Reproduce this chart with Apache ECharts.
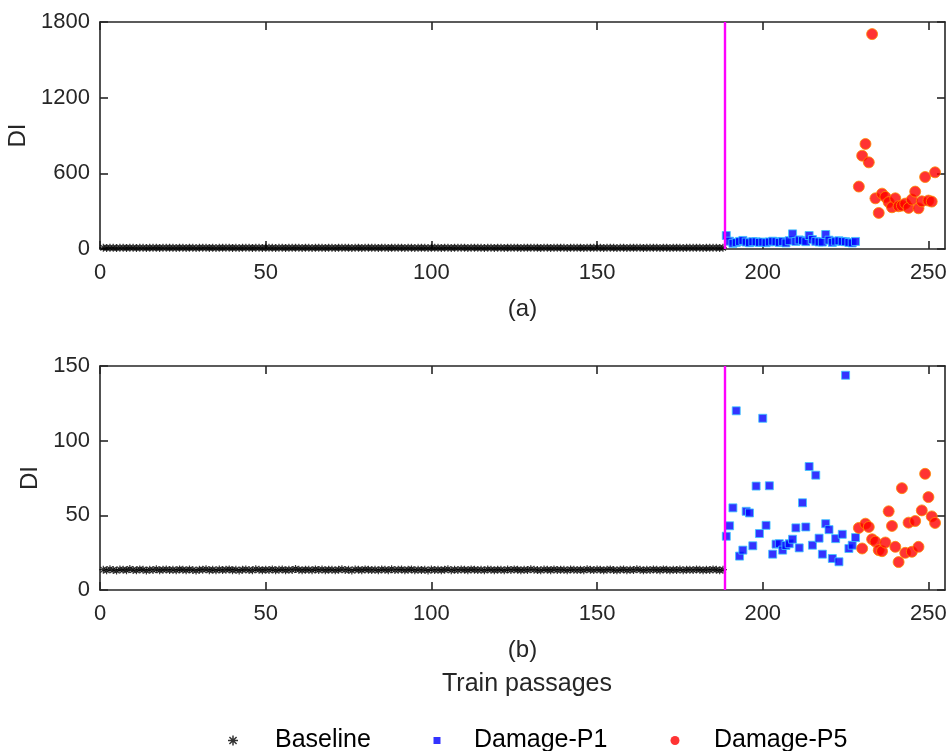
<!DOCTYPE html>
<html>
<head>
<meta charset="utf-8">
<script src="https://cdn.jsdelivr.net/npm/echarts@6/dist/echarts.min.js"></script>
<style>
  html, body { margin: 0; padding: 0; background: #fff; }
  #chart { width: 947px; height: 751px; }
</style>
</head>
<body>
<div id="chart"></div>
<script>
// passages where each state starts
const baselineStart = 1
const p1Start = 189
const p5Start = 229
const damageOnset = 188.5

const xTicks = [0, 50, 100, 150, 200, 250]
const yTicksA = [0, 600, 1200, 1800]
const yTicksB = [0, 50, 100, 150]

// (a) DI
const baselineA = [
  9.5, 8.7, 10.2, 9.1, 8.4, 9.8, 9.3, 8.9, 10.5, 9.2,
  8.6, 9.9, 9.4, 8.5, 9.7, 9.0, 10.3, 8.8, 9.4, 9.6,
  9.1, 9.7, 8.7, 10.0, 9.3, 8.9, 9.8, 9.2, 8.4, 9.6,
  9.4, 10.2, 8.9, 9.6, 8.6, 9.8, 9.1, 9.4, 10.0, 8.8,
  9.7, 8.5, 9.3, 9.8, 9.2, 8.7, 10.3, 9.4, 8.9, 9.6,
  9.1, 10.0, 8.6, 9.4, 9.8, 8.9, 9.6, 9.1, 10.4, 9.4,
  8.9, 9.6, 9.3, 8.6, 10.0, 9.1, 9.8, 8.8, 9.4, 9.6,
  8.7, 9.4, 10.2, 9.1, 9.6, 8.5, 9.8, 9.3, 8.9, 10.0,
  9.4, 9.1, 9.6, 8.7, 9.8, 9.4, 8.9, 10.3, 9.1, 9.6,
  9.8, 8.8, 9.4, 10.0, 8.6, 9.6, 9.1, 9.4, 8.5, 9.8,
  9.1, 9.6, 8.9, 9.4, 10.3, 8.7, 9.6, 9.2, 9.8, 9.4,
  8.8, 10.0, 9.4, 9.1, 9.6, 8.6, 9.8, 9.4, 8.9, 9.6,
  9.4, 8.7, 9.8, 9.1, 10.0, 9.4, 8.8, 9.6, 9.1, 10.3,
  9.6, 9.1, 8.7, 9.8, 9.4, 8.9, 10.0, 9.1, 9.6, 9.4,
  8.6, 9.8, 9.4, 9.1, 9.6, 8.9, 10.3, 9.4, 9.1, 9.8,
  9.4, 8.8, 9.6, 10.0, 9.1, 8.6, 9.4, 9.8, 8.9, 9.6,
  9.1, 10.3, 9.4, 8.7, 9.6, 9.1, 9.8, 9.4, 8.9, 10.0,
  9.6, 8.9, 9.4, 9.1, 9.8, 8.6, 9.6, 9.4, 9.1, 9.8,
  9.4, 8.9, 9.6, 9.1, 10.0, 9.4, 8.7, 9.6
]
const damageP1A = [
  107, 62, 45, 52, 60, 68, 55, 50, 58, 57,
  52, 55, 50, 56, 62, 58, 52, 60, 48, 66,
  120, 60, 72, 66, 58, 107, 75, 60, 56, 55,
  115, 70, 52, 62, 65, 60, 58, 52, 48, 60
]
const damageP5A = [
  495, 740, 833, 687, 1704, 402, 286, 439, 413, 371,
  331, 402, 339, 344, 360, 326, 392, 455, 323, 378,
  571, 384, 376, 608
]

// (b) DI
const baselineB = [
  13.6, 13.2, 13.9, 13.4, 13.1, 13.7, 13.5, 13.3, 14.0, 13.4,
  13.2, 13.8, 13.5, 13.1, 13.6, 13.4, 13.9, 13.3, 13.5, 13.7,
  13.4, 13.6, 13.2, 13.8, 13.5, 13.3, 13.7, 13.4, 13.1, 13.6,
  13.5, 13.9, 13.3, 13.6, 13.2, 13.7, 13.4, 13.5, 13.8, 13.3,
  13.6, 13.1, 13.5, 13.7, 13.4, 13.2, 13.9, 13.5, 13.3, 13.6,
  13.4, 13.8, 13.2, 13.5, 13.7, 13.3, 13.6, 13.4, 14.0, 13.5,
  13.3, 13.6, 13.5, 13.2, 13.8, 13.4, 13.7, 13.3, 13.5, 13.6,
  13.2, 13.5, 13.9, 13.4, 13.6, 13.1, 13.7, 13.5, 13.3, 13.8,
  13.5, 13.4, 13.6, 13.2, 13.7, 13.5, 13.3, 13.9, 13.4, 13.6,
  13.7, 13.3, 13.5, 13.8, 13.2, 13.6, 13.4, 13.5, 13.1, 13.7,
  13.4, 13.6, 13.3, 13.5, 13.9, 13.2, 13.6, 13.4, 13.7, 13.5,
  13.3, 13.8, 13.5, 13.4, 13.6, 13.2, 13.7, 13.5, 13.3, 13.6,
  13.5, 13.2, 13.7, 13.4, 13.8, 13.5, 13.3, 13.6, 13.4, 13.9,
  13.6, 13.4, 13.2, 13.7, 13.5, 13.3, 13.8, 13.4, 13.6, 13.5,
  13.2, 13.7, 13.5, 13.4, 13.6, 13.3, 13.9, 13.5, 13.4, 13.7,
  13.5, 13.3, 13.6, 13.8, 13.4, 13.2, 13.5, 13.7, 13.3, 13.6,
  13.4, 13.9, 13.5, 13.2, 13.6, 13.4, 13.7, 13.5, 13.3, 13.8,
  13.6, 13.3, 13.5, 13.4, 13.7, 13.2, 13.6, 13.5, 13.4, 13.7,
  13.5, 13.3, 13.6, 13.4, 13.8, 13.5, 13.2, 13.6
]
const damageP1B = [
  36, 43, 55, 120, 22.7, 26.7, 52.7, 51.6, 29.6, 69.6,
  37.8, 115, 43.3, 69.8, 24, 30.7, 31, 26.7, 29.8, 31,
  34, 41.6, 28.2, 58.4, 42.2, 82.7, 30, 76.9, 34.7, 24,
  44.4, 40.4, 21.1, 34.4, 18.9, 37.3, 143.8, 27.8, 30, 35.1
]
const damageP5B = [
  41.6, 27.8, 44.4, 42.2, 34, 32.4, 26.7, 26, 31.8, 52.7,
  42.9, 28.9, 18.7, 68.2, 24.9, 45.1, 25.6, 46.2, 28.9, 53.3,
  77.8, 62.2, 49.3, 44.9
]

const toPoints = (values, start) => values.map((v, i) => [start + i, v])

const ink = '#262626'
const font = 'Liberation Sans, Arial, Helvetica, sans-serif'
const asterisk =
  'path://M8.5,0L11.5,0L11.5,20L8.5,20Z M0,8.5L20,8.5L20,11.5L0,11.5Z ' +
  'M1.8,3.9L3.9,1.8L18.2,16.1L16.1,18.2Z M16.1,1.8L18.2,3.9L3.9,18.2L1.8,16.1Z'
const square = 'path://M0,0L10,0L10,10L0,10Z'

const lineStyle = { color: ink, width: 1.6 }
const mainX = (grid, name) => ({
  type: 'value',
  gridIndex: grid,
  min: 0,
  max: 255,
  position: 'bottom',
  name,
  nameLocation: 'middle',
  nameGap: 48,
  nameTextStyle: { fontFamily: font, fontSize: 24, color: ink },
  axisLine: { show: true, onZero: false, lineStyle },
  axisTick: { show: true, inside: true, length: 8, lineStyle, customValues: xTicks },
  axisLabel: { fontFamily: font, fontSize: 22, color: ink, margin: 13, customValues: xTicks },
  splitLine: { show: false },
})
const mirrorX = (grid) => ({
  type: 'value',
  gridIndex: grid,
  min: 0,
  max: 255,
  position: 'top',
  axisLine: { show: true, onZero: false, lineStyle },
  axisTick: { show: true, inside: true, length: 8, lineStyle, customValues: xTicks },
  axisLabel: { show: false },
  splitLine: { show: false },
})
const mainY = (grid, ticks, gap) => ({
  type: 'value',
  gridIndex: grid,
  min: ticks[0],
  max: ticks[ticks.length - 1],
  interval: ticks[1] - ticks[0],
  position: 'left',
  name: 'DI',
  nameLocation: 'middle',
  nameGap: gap,
  nameTextStyle: { fontFamily: font, fontSize: 24, color: ink },
  axisLine: { show: true, onZero: false, lineStyle },
  axisTick: { show: true, inside: true, length: 8, lineStyle },
  axisLabel: { fontFamily: font, fontSize: 22, color: ink, margin: 10, formatter: (v) => String(v) },
  splitLine: { show: false },
})
const mirrorY = (grid, ticks) => ({
  type: 'value',
  gridIndex: grid,
  min: ticks[0],
  max: ticks[ticks.length - 1],
  interval: ticks[1] - ticks[0],
  position: 'right',
  axisLine: { show: true, onZero: false, lineStyle },
  axisTick: { show: true, inside: true, length: 8, lineStyle },
  axisLabel: { show: false },
  splitLine: { show: false },
})

const onsetLine = {
  silent: true,
  symbol: 'none',
  label: { show: false },
  lineStyle: { color: '#ff00ff', width: 2.4, type: 'solid' },
  data: [{ xAxis: damageOnset }],
}

const baselineStyle = { color: '#000' }
const p1Style = { color: '#0000ff', borderColor: '#3cc8ff', borderWidth: 1 }
const p5Style = { color: '#ff0000', borderColor: '#ff8a00', borderWidth: 1 }

const panelSeries = (grid, base, p1, p5) => [
  {
    name: 'Baseline',
    type: 'scatter',
    xAxisIndex: grid * 2,
    yAxisIndex: grid * 2,
    symbol: asterisk,
    symbolSize: 8,
    itemStyle: baselineStyle,
    data: toPoints(base, baselineStart),
    markLine: onsetLine,
    z: 3,
  },
  {
    name: 'Damage-P1',
    type: 'scatter',
    xAxisIndex: grid * 2,
    yAxisIndex: grid * 2,
    symbol: square,
    symbolSize: 8,
    itemStyle: p1Style,
    data: toPoints(p1, p1Start),
    z: 4,
  },
  {
    name: 'Damage-P5',
    type: 'scatter',
    xAxisIndex: grid * 2,
    yAxisIndex: grid * 2,
    symbol: 'circle',
    symbolSize: 11,
    itemStyle: p5Style,
    data: toPoints(p5, p5Start),
    z: 5,
  },
]

// one legend per entry so each can sit where the reference has it
const legendItem = (name, iconCenter, textStart, icon, size) => ({
  data: [{ name, icon, itemStyle: { borderWidth: 0 } }],
  left: iconCenter - size / 2,
  top: 723,
  itemWidth: size,
  itemHeight: size,
  selectedMode: false,
  textStyle: {
    fontFamily: font,
    fontSize: 25,
    color: '#000',
    padding: [0, 0, 0, textStart - (iconCenter + size / 2 + 10)],
  },
})

const chart = echarts.init(document.getElementById('chart'))
chart.setOption({
  animation: false,
  backgroundColor: '#fff',
  title: {
    text: 'Train passages',
    left: 522,
    top: 667,
    textAlign: 'center',
    textStyle: { fontFamily: font, fontSize: 25, fontWeight: 'normal', color: ink },
  },
  legend: [
    legendItem('Baseline', 228, 275, asterisk, 10),
    legendItem('Damage-P1', 432, 474, square, 7),
    legendItem('Damage-P5', 670, 714, 'circle', 9),
  ],
  grid: [
    { left: 100, right: 2, top: 22, height: 227, outerBoundsMode: 'none' },
    { left: 100, right: 2, top: 366, height: 224, outerBoundsMode: 'none' },
  ],
  xAxis: [mainX(0, '(a)'), mirrorX(0), mainX(1, '(b)'), mirrorX(1)],
  yAxis: [mainY(0, yTicksA, 59), mirrorY(0, yTicksA), mainY(1, yTicksB, 51), mirrorY(1, yTicksB)],
  series: [
    ...panelSeries(0, baselineA, damageP1A, damageP5A),
    ...panelSeries(1, baselineB, damageP1B, damageP5B),
  ],
})
</script>
</body>
</html>
